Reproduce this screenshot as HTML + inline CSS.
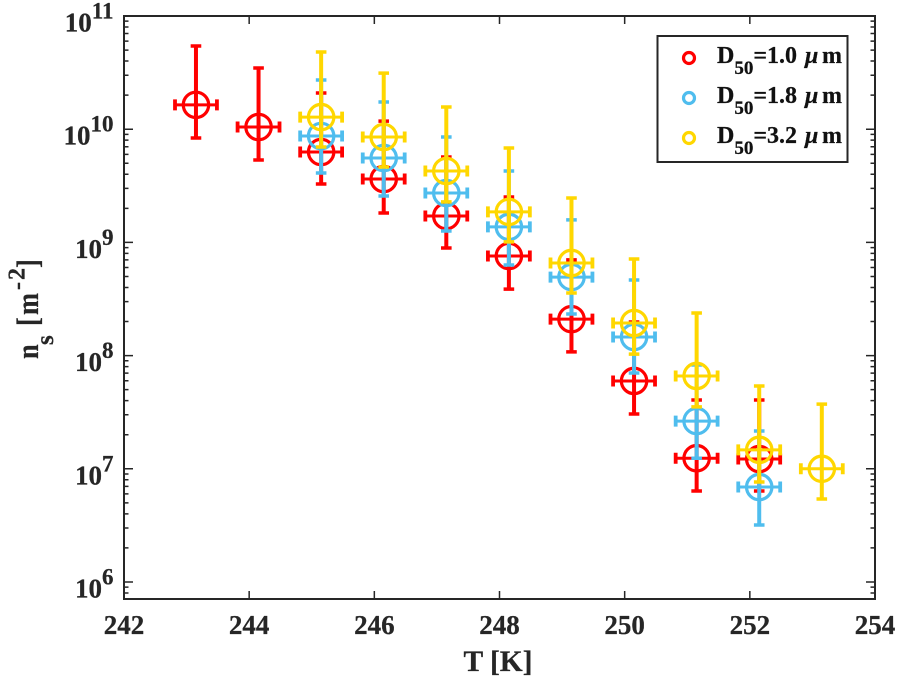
<!DOCTYPE html>
<html lang="en">
<head>
<meta charset="utf-8">
<title>Ice nucleation site density vs temperature</title>
<style>
html,body{margin:0;padding:0;background:#fff;}
svg{display:block;}
text{font-family:"Liberation Serif",serif;font-weight:bold;fill:#262626;stroke:#262626;stroke-width:0.25;}
</style>
</head>
<body>
<svg id="chart" xmlns="http://www.w3.org/2000/svg" width="899" height="681" viewBox="0 0 899 681">
  <rect x="124" y="16" width="751" height="583" fill="#fff"/>
  <g id="ticks"></g>
  <g id="marks"></g>
  <rect x="124" y="16" width="751" height="583" fill="none" stroke="#262626" stroke-width="2"/>
  <g id="tick-labels"></g>

  <text x="498" y="671" text-anchor="middle" font-size="29.5">T [K]</text>
  <g>
    <text transform="translate(38,359) rotate(-90) scale(0.85,1)" font-size="31">n</text>
    <text transform="translate(53,345) rotate(-90)" font-size="25">s</text>
    <text transform="translate(38,326) rotate(-90) scale(0.85,1)" font-size="31">[</text>
    <text transform="translate(38,315) rotate(-90) scale(0.85,1)" font-size="31">m</text>
    <text transform="translate(24.5,290) rotate(-90)" font-size="24">-</text>
    <text transform="translate(24.5,280) rotate(-90)" font-size="24">2</text>
    <text transform="translate(38,268) rotate(-90) scale(0.85,1)" font-size="31">]</text>
  </g>

  <g>
    <rect x="657.5" y="36" width="190" height="126" fill="#fff" stroke="#262626" stroke-width="2"/>
    <g>
      <circle cx="689" cy="58" r="5.5" fill="none" stroke="#ff0000" stroke-width="3.2"/>
      <text x="717" y="63" font-size="24" style="fill:#111;stroke:#111">D<tspan font-size="19" dy="11">50</tspan><tspan dy="-11">=1.0</tspan><tspan x="805" font-style="italic">μ</tspan><tspan x="822">m</tspan></text>
    </g>
    <g>
      <circle cx="689" cy="98" r="5.5" fill="none" stroke="#4fbdee" stroke-width="3.2"/>
      <text x="717" y="103" font-size="24" style="fill:#111;stroke:#111">D<tspan font-size="19" dy="11">50</tspan><tspan dy="-11">=1.8</tspan><tspan x="805" font-style="italic">μ</tspan><tspan x="822">m</tspan></text>
    </g>
    <g>
      <circle cx="689" cy="138" r="5.5" fill="none" stroke="#ffd700" stroke-width="3.2"/>
      <text x="717" y="143" font-size="24" style="fill:#111;stroke:#111">D<tspan font-size="19" dy="11">50</tspan><tspan dy="-11">=3.2</tspan><tspan x="805" font-style="italic">μ</tspan><tspan x="822">m</tspan></text>
    </g>
  </g>
</svg>

<script>
const xTickValues = [242, 244, 246, 248, 250, 252, 254];
const yTickExponents = [6, 7, 8, 9, 10, 11];
const yMinorDecades = [5, 6, 7, 8, 9, 10];
const yMinorMultipliers = [2, 3, 4, 5, 6, 7, 8, 9];
const tempError = 0.335;

const red1Temps = [243.15, 244.15, 245.15, 246.15, 247.15, 248.15, 249.15, 250.15, 251.15, 252.15];
const red1Values = [1.64e10, 1.045e10, 6.29e9, 3.63e9, 1.71e9, 7.58e8, 2.10e8, 5.97e7, 1.24e7, 1.22e7];
const red1Upper = [5.43e10, 3.47e10, 2.09e10, 1.18e10, 5.68e9, 2.52e9, 7.00e8, 1.98e8, 4.05e7, 4.05e7];
const red1Lower = [8.36e9, 5.35e9, 3.28e9, 1.82e9, 8.93e8, 3.87e8, 1.08e8, 3.05e7, 6.37e6, 6.37e6];

const blue18Temps = [245.15, 246.15, 247.15, 248.15, 249.15, 250.15, 251.15, 252.15];
const blue18Values = [8.71e9, 5.57e9, 2.73e9, 1.37e9, 4.94e8, 1.46e8, 2.64e7, 6.90e6];
const blue18Upper = [2.72e10, 1.74e10, 8.53e9, 4.27e9, 1.58e9, 4.66e8, 8.26e7, 2.16e7];
const blue18Lower = [4.10e9, 2.57e9, 1.26e9, 6.31e8, 2.33e8, 7.02e7, 1.24e7, 3.19e6];

const yellow32Temps = [245.15, 246.15, 247.15, 248.15, 249.15, 250.15, 251.15, 252.15, 253.15];
const yellow32Values = [1.28e10, 8.53e9, 4.27e9, 1.86e9, 6.58e8, 1.94e8, 6.61e7, 1.47e7, 1.00e7];
const yellow32Upper = [4.81e10, 3.13e10, 1.57e10, 6.82e9, 2.47e9, 7.13e8, 2.38e8, 5.39e7, 3.73e7];
const yellow32Lower = [6.97e9, 4.63e9, 2.28e9, 1.01e9, 3.57e8, 1.03e8, 3.52e7, 7.64e6, 5.41e6];

const NS = 'http://www.w3.org/2000/svg';
const plotLeft = 124, plotRight = 875, plotTop = 16, plotBottom = 599;
const xMin = 242, xMax = 254;
const logTop = 11, decadePx = 113.2;

function xScale(t) { return plotLeft + (t - xMin) * (plotRight - plotLeft) / (xMax - xMin); }
function yScale(v) { return plotTop + (logTop - Math.log10(v)) * decadePx; }

function shape(tag, parent, props) {
  const el = document.createElementNS(NS, tag);
  for (const k in props) el.setAttribute(k, props[k]);
  parent.appendChild(el);
  return el;
}

const tickGroup = document.getElementById('ticks');
const labelGroup = document.getElementById('tick-labels');
const markGroup = document.getElementById('marks');

xTickValues.forEach(function (t) {
  const x = xScale(t);
  const tick = shape('path', tickGroup, { d: 'M' + x + ' ' + plotBottom + 'v-8M' + x + ' ' + plotTop + 'v8', stroke: '#262626', 'stroke-width': 1.5, fill: 'none' });
  
  
  const label = shape('text', labelGroup, { x: x, y: 634, 'text-anchor': 'middle', 'font-size': 27 });
  label.textContent = String(t);
  
  
});

yTickExponents.forEach(function (e) {
  const y = yScale(Math.pow(10, e));
  const tick = shape('path', tickGroup, { d: 'M' + plotLeft + ' ' + y + 'h9M' + plotRight + ' ' + y + 'h-9', stroke: '#262626', 'stroke-width': 1.5, fill: 'none' });
  
  
  const label = shape('text', labelGroup, { x: 113.5, y: y + 15.5, 'text-anchor': 'end', 'font-size': 27 });
  
  
  const base = document.createElementNS(NS, 'tspan');
  base.textContent = '10';
  label.appendChild(base);
  const sup = document.createElementNS(NS, 'tspan');
  sup.setAttribute('font-size', '23');
  sup.setAttribute('dy', '-13');
  sup.textContent = String(e);
  label.appendChild(sup);
});

yMinorDecades.forEach(function (e) {
  yMinorMultipliers.forEach(function (m) {
    const my = yScale(m * Math.pow(10, e));
    if (my >= plotTop && my <= plotBottom) {
      const minor = shape('path', tickGroup, { d: 'M' + plotLeft + ' ' + my + 'h4.5M' + plotRight + ' ' + my + 'h-4.5', stroke: '#262626', 'stroke-width': 1.5, fill: 'none' });
      
      
    }
  });
});

function drawSeries(name, color, temps, values, upper, lower) {
  const g = document.createElementNS(NS, 'g');
  
  
  markGroup.appendChild(g);
  temps.forEach(function (t, i) {
    const cx = xScale(t);
    const cy = yScale(values[i]);
    const yTop = yScale(upper[i]);
    const yBot = yScale(lower[i]);
    const xL = xScale(t - tempError);
    const xR = xScale(t + tempError);
    const capV = 5.3;
    const capH = 5.5;
    const vStem = shape('path', g, { d: 'M' + cx + ' ' + yTop + 'V' + yBot, stroke: color, 'stroke-width': 4, fill: 'none' });
    
    
    const vCaps = shape('path', g, { d: 'M' + (cx - capV) + ' ' + yTop + 'h' + (2 * capV) + 'M' + (cx - capV) + ' ' + yBot + 'h' + (2 * capV), stroke: color, 'stroke-width': 3.5, fill: 'none' });
    
    
    const hStem = shape('path', g, { d: 'M' + xL + ' ' + cy + 'H' + xR, stroke: color, 'stroke-width': 3, fill: 'none' });
    
    
    const hCaps = shape('path', g, { d: 'M' + xL + ' ' + (cy - capH) + 'v' + (2 * capH) + 'M' + xR + ' ' + (cy - capH) + 'v' + (2 * capH), stroke: color, 'stroke-width': 3.8, fill: 'none' });
    
    
    const point = shape('circle', g, { cx: cx, cy: cy, r: 12.7, fill: 'none', stroke: color, 'stroke-width': 3.2 });
    
    
  });
}

drawSeries('series-d50-1-0um', '#ff0000', red1Temps, red1Values, red1Upper, red1Lower);
drawSeries('series-d50-1-8um', '#4fbdee', blue18Temps, blue18Values, blue18Upper, blue18Lower);
drawSeries('series-d50-3-2um', '#ffd700', yellow32Temps, yellow32Values, yellow32Upper, yellow32Lower);
</script>
</body>
</html>
